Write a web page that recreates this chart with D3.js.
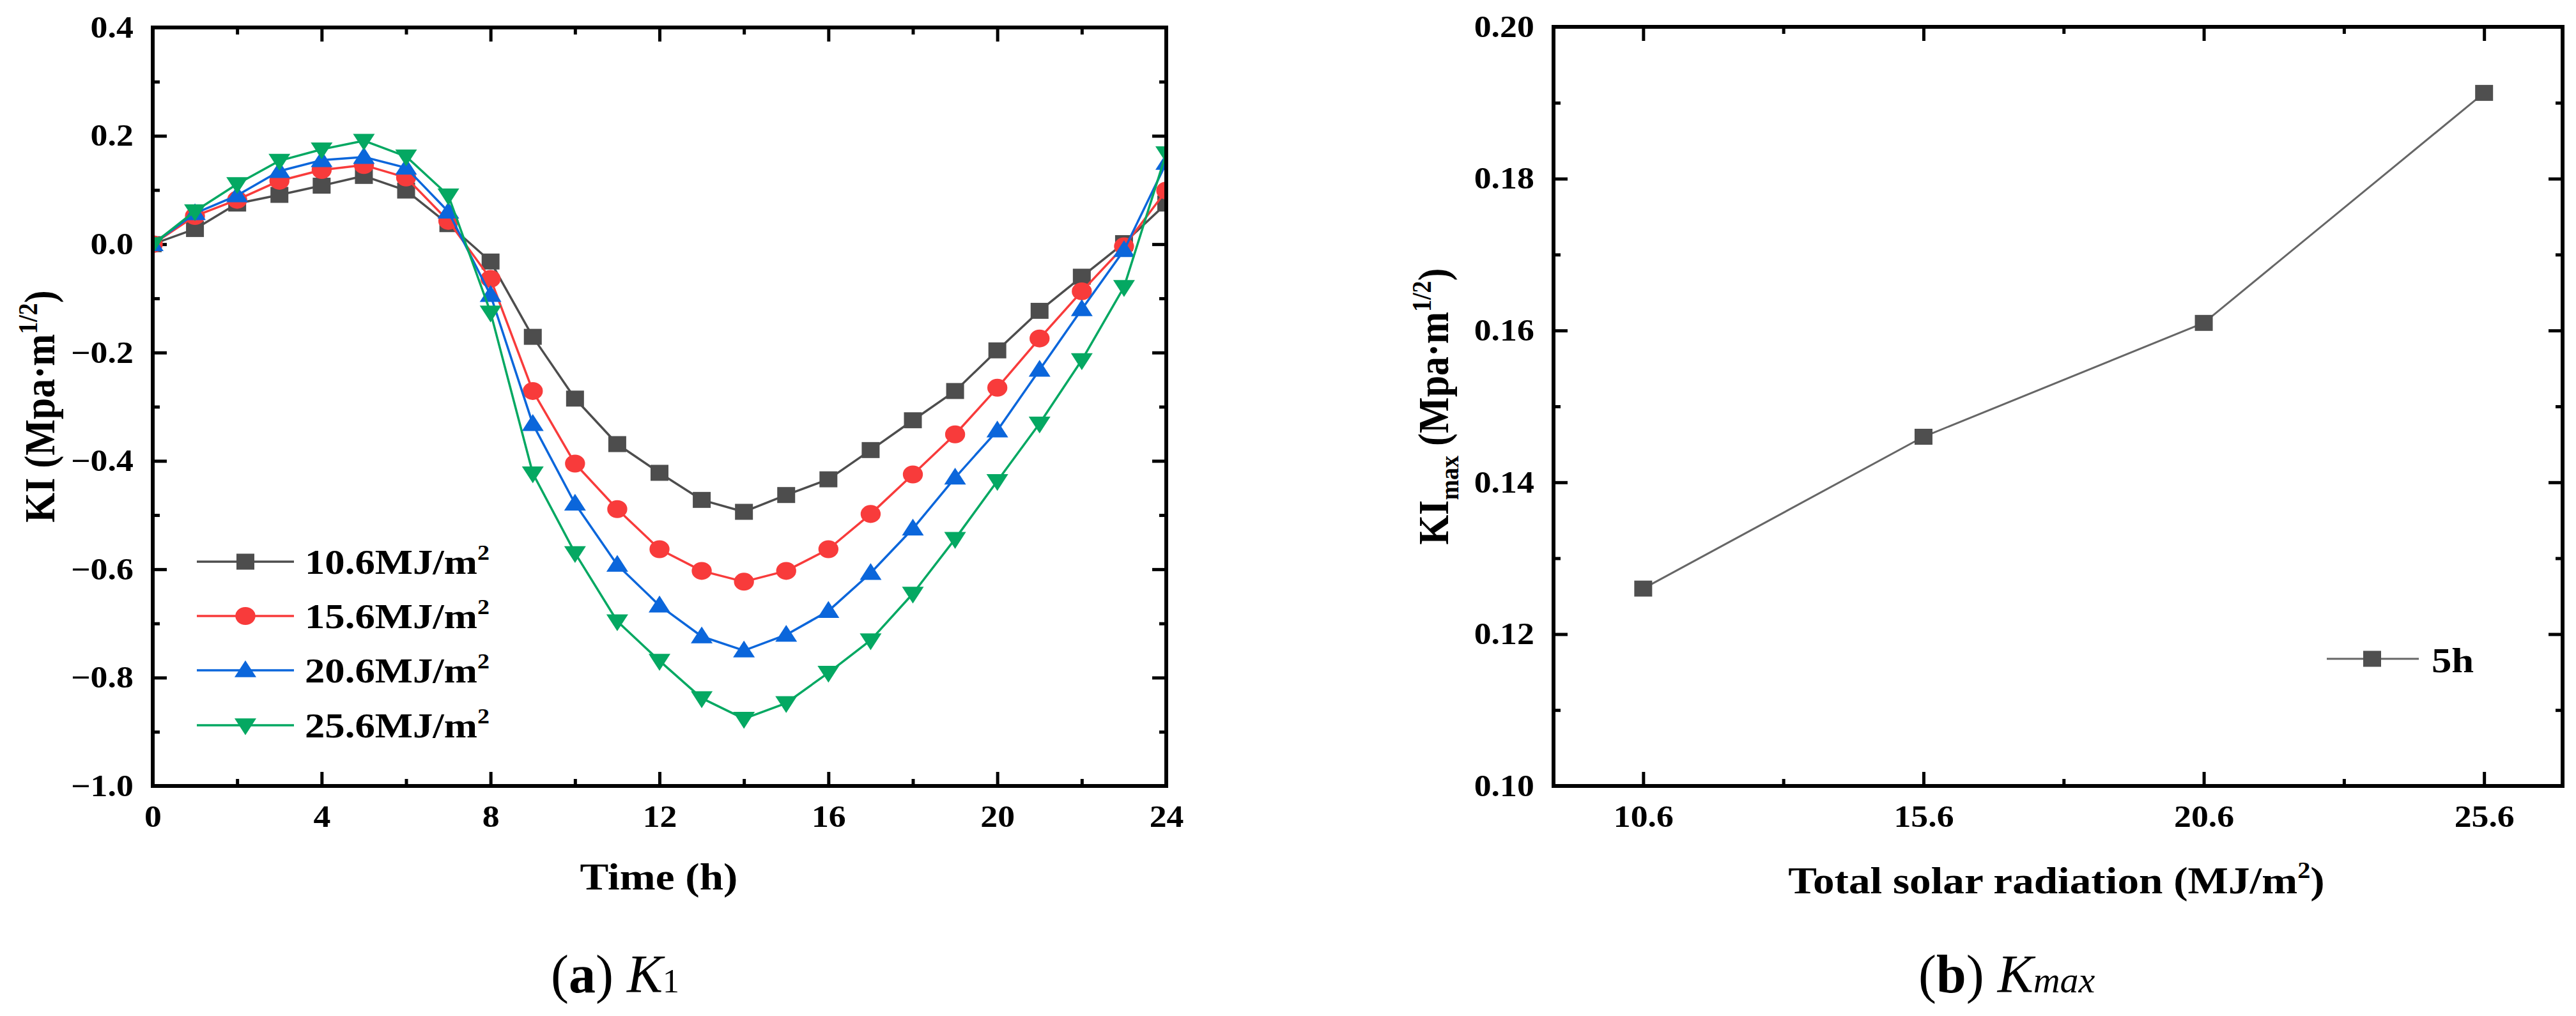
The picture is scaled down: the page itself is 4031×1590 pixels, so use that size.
<!DOCTYPE html>
<html><head><meta charset="utf-8">
<script src="https://cdn.jsdelivr.net/npm/d3@7"></script>
<style>
body{margin:0;background:#fff;}
text{font-family:"Liberation Serif","Times New Roman",serif;}
</style>
</head><body>
<svg id="c" width="4031" height="1590" xmlns="http://www.w3.org/2000/svg"></svg>
<script>
// ---------------- DATA ----------------
const hours = [0,1,2,3,4,5,6,7,8,9,10,11,12,13,14,15,16,17,18,19,20,21,22,23,24];
const k1_10_6 = [0,0.028,0.075,0.091,0.108,0.126,0.099,0.037,-0.032,-0.171,-0.285,-0.369,-0.422,-0.472,-0.494,-0.463,-0.434,-0.380,-0.325,-0.271,-0.196,-0.123,-0.060,0.002,0.075];
const k1_15_6 = [0,0.052,0.082,0.117,0.137,0.146,0.123,0.043,-0.064,-0.271,-0.405,-0.489,-0.563,-0.603,-0.623,-0.603,-0.563,-0.498,-0.425,-0.351,-0.265,-0.174,-0.087,-0.004,0.099];
const k1_20_6 = [0,0.057,0.090,0.135,0.155,0.161,0.141,0.060,-0.094,-0.332,-0.479,-0.592,-0.667,-0.724,-0.750,-0.721,-0.677,-0.607,-0.525,-0.431,-0.344,-0.232,-0.120,-0.011,0.150];
const k1_25_6 = [0,0.061,0.111,0.154,0.175,0.191,0.162,0.090,-0.126,-0.423,-0.570,-0.696,-0.769,-0.838,-0.876,-0.847,-0.791,-0.731,-0.645,-0.544,-0.437,-0.331,-0.214,-0.079,0.168];
const seriesLabels = ["10.6MJ/m","15.6MJ/m","20.6MJ/m","25.6MJ/m"];
const seriesColors = ["#4D4D4D","#F83B3B","#0B66DB","#04A862"];
const seriesSymbols = ["square","circle","triangleUp","triangleDown"];

const radiation = [10.6,15.6,20.6,25.6];
const kmax5h = [0.126,0.146,0.161,0.1913];
const kmaxLabel = "5h";

const leftXTicks = [0,4,8,12,16,20,24];
const leftXMinor = [2,6,10,14,18,22];
const leftYTicks = [-1.0,-0.8,-0.6,-0.4,-0.2,0.0,0.2,0.4];
const leftYMinor = [-0.9,-0.7,-0.5,-0.3,-0.1,0.1,0.3];
const rightXTicks = [10.6,15.6,20.6,25.6];
const rightXMinor = [13.1,18.1,23.1];
const rightYTicks = [0.10,0.12,0.14,0.16,0.18,0.20];
const rightYMinor = [0.11,0.13,0.15,0.17,0.19];

// ---------------- LAYOUT ----------------
const SX = 1.12;            // horizontal stretch of the original figure
const svg = d3.select("#c");
const defs = svg.append("defs");

function symbolPath(kind){
  if(kind==="square") return d3.symbol(d3.symbolSquare, 625)();
  if(kind==="circle") return d3.symbol(d3.symbolCircle, 616)();
  return d3.symbol(d3.symbolTriangle, 400)();
}
function symbolTransform(kind,x,y){
  let t = `translate(${x},${y}) scale(${SX},1)`;
  if(kind==="triangleDown") t += " rotate(180)";
  if(kind==="triangleUp") t += " translate(0,2)";
  if(kind==="triangleDown") t += " translate(0,2)";
  return t;
}

function panel(cfg){
  const g = svg.append("g");
  const {x,y} = cfg;
  const [x0,x1] = x.range(), [y0,y1] = y.range(); // y0 bottom, y1 top
  const clipId = cfg.id+"clip";
  defs.append("clipPath").attr("id",clipId).append("rect")
    .attr("x",x0).attr("y",y1).attr("width",x1-x0).attr("height",y0-y1);

  const major = 22, minor = 11;
  function styleAxis(sel){
    sel.select(".domain").remove();
    sel.selectAll(".tick line").attr("stroke","#000").attr("stroke-width",5);
  }
  // bottom
  g.append("g").attr("transform",`translate(0,${y0})`)
    .call(d3.axisBottom(x).tickValues(cfg.xTicks).tickSize(-major).tickPadding(30).tickFormat(cfg.xFmt))
    .call(styleAxis)
    .call(s=>s.selectAll("text").attr("font-size",48).attr("font-weight","bold").attr("fill","#000")
      .attr("font-family","Liberation Serif").attr("transform",`scale(${SX},1)`));
  g.append("g").attr("transform",`translate(0,${y0})`)
    .call(d3.axisBottom(x).tickValues(cfg.xMinor).tickSize(-minor).tickFormat(""))
    .call(styleAxis);
  // top
  g.append("g").attr("transform",`translate(0,${y1})`)
    .call(d3.axisTop(x).tickValues(cfg.xTicks).tickSize(-major).tickFormat(""))
    .call(styleAxis);
  g.append("g").attr("transform",`translate(0,${y1})`)
    .call(d3.axisTop(x).tickValues(cfg.xMinor).tickSize(-minor).tickFormat(""))
    .call(styleAxis);
  // left
  g.append("g").attr("transform",`translate(${x0},0)`)
    .call(d3.axisLeft(y).tickValues(cfg.yTicks).tickSize(-major).tickPadding(27).tickFormat(cfg.yFmt))
    .call(styleAxis)
    .call(s=>s.selectAll("text").attr("font-size",48).attr("font-weight","bold").attr("fill","#000")
      .attr("font-family","Liberation Serif").attr("transform",`scale(${SX},1)`));
  g.append("g").attr("transform",`translate(${x0},0)`)
    .call(d3.axisLeft(y).tickValues(cfg.yMinor).tickSize(-minor).tickFormat(""))
    .call(styleAxis);
  // right
  g.append("g").attr("transform",`translate(${x1},0)`)
    .call(d3.axisRight(y).tickValues(cfg.yTicks).tickSize(-major).tickFormat(""))
    .call(styleAxis);
  g.append("g").attr("transform",`translate(${x1},0)`)
    .call(d3.axisRight(y).tickValues(cfg.yMinor).tickSize(-minor).tickFormat(""))
    .call(styleAxis);

  // data
  const dg = g.append("g").attr("clip-path",`url(#${clipId})`);
  cfg.series.forEach(s=>{
    const line = d3.line().x(d=>x(d[0])).y(d=>y(d[1]));
    const pts = cfg.xs.map((v,i)=>[v,s.values[i]]);
    dg.append("path").attr("d",line(pts)).attr("fill","none")
      .attr("stroke",s.lineColor||s.color).attr("stroke-width",s.lw||3.5).attr("stroke-linejoin","round");
    dg.selectAll(null).data(pts).enter().append("path")
      .attr("d",symbolPath(s.symbol)).attr("fill",s.color)
      .attr("transform",d=>symbolTransform(s.symbol,x(d[0]),y(d[1])));
  });

  // frame
  g.append("rect").attr("x",x0).attr("y",y1).attr("width",x1-x0).attr("height",y0-y1)
    .attr("fill","none").attr("stroke","#000").attr("stroke-width",6);
  return g;
}

// ---------------- LEFT PANEL ----------------
const xL = d3.scaleLinear().domain([0,24]).range([239,1825]);
const yL = d3.scaleLinear().domain([-1.0,0.4]).range([1230,43]);
const leftValues = [k1_10_6,k1_15_6,k1_20_6,k1_25_6];
panel({
  id:"L", x:xL, y:yL, xs:hours,
  xTicks:leftXTicks, xMinor:leftXMinor, yTicks:leftYTicks, yMinor:leftYMinor,
  xFmt:d3.format("d"), yFmt:d3.format(".1f"),
  series: leftValues.map((v,i)=>({values:v,color:seriesColors[i],symbol:seriesSymbols[i],lw:3.5}))
});

// legend left
const legL = svg.append("g");
const legRows = [879,964,1049,1135];
seriesLabels.forEach((lab,i)=>{
  const yy = legRows[i];
  legL.append("line").attr("x1",308).attr("x2",460).attr("y1",yy).attr("y2",yy)
    .attr("stroke",seriesColors[i]).attr("stroke-width",3.5);
  legL.append("path").attr("d",symbolPath(seriesSymbols[i])).attr("fill",seriesColors[i])
    .attr("transform",symbolTransform(seriesSymbols[i],384,yy));
  const t = legL.append("text").attr("transform",`translate(477,${yy+19}) scale(${SX},1)`)
    .attr("font-size",56).attr("font-weight","bold").attr("fill","#000");
  t.append("tspan").text(lab);
  t.append("tspan").attr("font-size",34).attr("dy",-22).text("2");
});

// left axis titles
svg.append("text").attr("transform",`translate(1031,1392) scale(${SX},1)`)
  .attr("text-anchor","middle").attr("font-size",60).attr("font-weight","bold").text("Time (h)");
{
  const t = svg.append("text").attr("transform",`translate(85,636) rotate(-90) scale(1,${SX})`)
    .attr("text-anchor","middle").attr("font-size",60).attr("font-weight","bold");
  t.append("tspan").text("KI (Mpa\u00B7m");
  t.append("tspan").attr("font-size",38).attr("dy",-24).text("1/2");
  t.append("tspan").attr("dy",24).text(")");
}
// caption a
{
  const t = svg.append("text").attr("x",862).attr("y",1553).attr("font-size",84).attr("fill","#000");
  t.append("tspan").text("(");
  t.append("tspan").attr("font-weight","bold").text("a");
  t.append("tspan").text(") ");
  t.append("tspan").attr("font-style","italic").text("K");
  t.append("tspan").attr("font-size",52).text("1");
}

// ---------------- RIGHT PANEL ----------------
const xR = d3.scaleLinear().domain([9,27]).range([2431,4010]);
const yR = d3.scaleLinear().domain([0.10,0.20]).range([1230,42]);
panel({
  id:"R", x:xR, y:yR, xs:radiation,
  xTicks:rightXTicks, xMinor:rightXMinor, yTicks:rightYTicks, yMinor:rightYMinor,
  xFmt:d3.format(".1f"), yFmt:d3.format(".2f"),
  series:[{values:kmax5h,color:"#4F4F4F",lineColor:"#666666",symbol:"square",lw:3}]
});
// legend right
{
  const yy = 1031;
  svg.append("line").attr("x1",3641).attr("x2",3785).attr("y1",yy).attr("y2",yy)
    .attr("stroke","#666666").attr("stroke-width",3);
  svg.append("path").attr("d",symbolPath("square")).attr("fill","#4F4F4F")
    .attr("transform",symbolTransform("square",3712,yy));
  svg.append("text").attr("transform",`translate(3805,1052) scale(${SX},1)`)
    .attr("font-size",56).attr("font-weight","bold").text(kmaxLabel);
}
// right titles
{
  const t = svg.append("text").attr("transform",`translate(3218,1398) scale(${SX},1)`)
    .attr("text-anchor","middle").attr("font-size",60).attr("font-weight","bold");
  t.append("tspan").text("Total solar radiation (MJ/m");
  t.append("tspan").attr("font-size",36).attr("dy",-24).text("2");
  t.append("tspan").attr("dy",24).text(")");
}
{
  const t = svg.append("text").attr("transform",`translate(2266,636) rotate(-90) scale(1,${SX})`)
    .attr("text-anchor","middle").attr("font-size",60).attr("font-weight","bold");
  t.append("tspan").text("KI");
  t.append("tspan").attr("font-size",38).attr("dy",14).text("max");
  t.append("tspan").attr("dy",-14).text(" (Mpa\u00B7m");
  t.append("tspan").attr("font-size",38).attr("dy",-24).text("1/2");
  t.append("tspan").attr("dy",24).text(")");
}
// caption b
{
  const t = svg.append("text").attr("x",3002).attr("y",1553).attr("font-size",84).attr("fill","#000");
  t.append("tspan").text("(");
  t.append("tspan").attr("font-weight","bold").text("b");
  t.append("tspan").text(") ");
  t.append("tspan").attr("font-style","italic").text("K");
  t.append("tspan").attr("font-style","italic").attr("font-size",58).text("max");
}
</script>
</body></html>
